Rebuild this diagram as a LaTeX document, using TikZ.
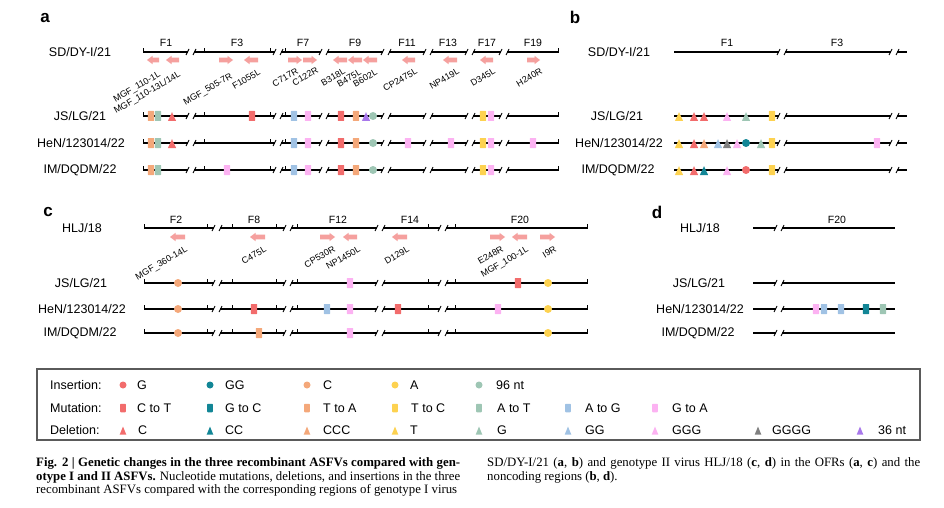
\documentclass[tikz,border=0pt]{standalone}
\usepackage{fontspec}
\setmainfont{Liberation Sans}
\newfontfamily\capfont{Liberation Serif}
\usepackage{graphicx}
\usetikzlibrary{shapes.geometric}
\definecolor{cG}{RGB}{242,108,108}
\definecolor{cGG}{RGB}{18,134,150}
\definecolor{cC}{RGB}{244,168,122}
\definecolor{cA}{RGB}{253,210,80}
\definecolor{cNT}{RGB}{158,198,180}
\definecolor{cAG}{RGB}{160,194,228}
\definecolor{cGA}{RGB}{252,178,242}
\definecolor{cGR}{RGB}{128,128,128}
\definecolor{cPU}{RGB}{168,120,235}
\definecolor{cAR}{RGB}{245,160,158}
\definecolor{cBOX}{RGB}{90,90,90}
\newsavebox\capbox
\newcommand\fitline[2]{\sbox\capbox{#2}\ifdim\wd\capbox<#1pt\makebox[#1pt][s]{#2}\else\pgfmathsetmacro\capr{#1/\the\wd\capbox}\scalebox{\capr}[1]{\usebox\capbox}\fi}
\newcommand\trackline[4]{% y, xstart, xend, breaks
  \draw[trk] (#2,#1) -- (#3,#1);
  \foreach \b in {#4} {
    \fill[white] (\b-3,#1-2.2) rectangle (\b+3,#1+2.2);
    \draw[brk] (\b-5,#1+3) -- (\b-2,#1-3);
    \draw[brk] (\b+2,#1+3) -- (\b+5,#1-3);
  }}
\newcommand\ticks[2]{\foreach \t in {#2} {\draw[tck] (\t,#1+0.6) -- (\t,#1-4);}}
\newcommand\garrowR[3]{\fill[cAR] (#1,#3-2.4) -- (#2-5.5,#3-2.4) -- (#2-5.5,#3-4.2) -- (#2,#3) -- (#2-5.5,#3+4.2) -- (#2-5.5,#3+2.4) -- (#1,#3+2.4) -- cycle;}
\newcommand\garrowL[3]{\fill[cAR] (#2,#3-2.4) -- (#1+5.5,#3-2.4) -- (#1+5.5,#3-4.2) -- (#1,#3) -- (#1+5.5,#3+4.2) -- (#1+5.5,#3+2.4) -- (#2,#3+2.4) -- cycle;}
\tikzset{
  trk/.style={line width=1.2pt},
  brk/.style={line width=0.9pt},
  tck/.style={line width=1pt},
  mut/.style={rectangle, minimum width=6.4pt, minimum height=10pt, inner sep=0pt, draw=none, rounded corners=0.6pt, fill=#1},
  ins/.style={circle, minimum size=8pt, inner sep=0pt, draw=none, fill=#1},
  del/.style={rectangle, minimum width=8.2pt, minimum height=8.8pt, inner sep=0pt, draw=none, yshift=-0.6pt,
    path picture={\fill[#1] (path picture bounding box.north) -- (path picture bounding box.south west) -- (path picture bounding box.south east) -- cycle;}},
  lmut/.style={mut=#1, minimum width=5.6pt, minimum height=8.5pt},
  lins/.style={ins=#1, minimum size=7pt},
  ldel/.style={del=#1, minimum width=6.6pt, minimum height=8pt, yshift=0pt},
  rowlab/.style={font=\fontsize{12.5}{14}\selectfont, inner sep=0pt},
  frag/.style={font=\fontsize{10.5}{12}\selectfont, inner sep=0pt},
  gene/.style={font=\fontsize{9}{10}\selectfont, rotate=30, anchor=north east, inner sep=0.3pt},
  plet/.style={font=\fontsize{17}{18}\selectfont\bfseries, inner sep=0pt},
  leg/.style={font=\fontsize{12.5}{14}\selectfont, anchor=west, inner sep=0pt},
  captxt/.style={font=\capfont\fontsize{12.8}{14}\selectfont, anchor=base west, inner sep=0pt},
}
\begin{document}
\begin{tikzpicture}[x=1pt,y=-1pt]
\useasboundingbox (0,0) rectangle (944,508);
\fill[white] (0,0) rectangle (944,508);

% ---------------- panel letters
\node[plet] (la) at (45,18) {a};
\node[plet] (lb) at (575,17) {b};
\node[plet] (lc) at (48,212) {c};
\node[plet] (ld) at (657,212) {d};

% ---------------- panel a
\node[rowlab] (a0) at (80,52) {SD/DY-I/21};
\node[rowlab] (a1) at (80,116) {JS/LG/21};
\node[rowlab] (a2) at (81,143) {HeN/123014/22};
\node[rowlab] (a3) at (80,170) {IM/DQDM/22};
\foreach \y in {52,116,143,170} {
  \trackline{\y}{143}{558}{191,278,324,386,428,470,504}
  \ticks{\y}{143,204,270,285,558}
}
\foreach \t/\x in {F1/166,F3/237,F7/303,F9/355,F11/407,F13/448,F17/487,F19/533}
  \node[frag] (af-\t) at (\x,43) {\t};
\garrowL{147}{159}{60} \garrowL{166}{179}{60} \garrowR{219}{233}{60} \garrowL{244}{258}{60}
\garrowR{288}{302}{60} \garrowR{303}{317}{60} \garrowL{333}{347}{60} \garrowL{348}{362}{60}
\garrowL{363}{377}{60} \garrowL{402}{415}{60} \garrowL{443}{457}{60} \garrowL{480}{493}{60}
\garrowR{527}{540}{60}
\node[gene] (g1) at (158,70) {MGF\_110-1L};
\node[gene] (g2) at (178,70) {MGF\_110-13L/14L};
\node[gene] (g3) at (230,72) {MGF\_505-7R};
\node[gene] (g4) at (258,68) {F1055L};
\node[gene] (g5) at (296,67) {C717R};
\node[gene] (g6) at (316,66) {C122R};
\node[gene] (g7) at (343,67) {B318L};
\node[gene] (g8) at (359,68) {B475L};
\node[gene] (g9) at (375,68) {B602L};
\node[gene] (g10) at (415,67) {CP2475L};
\node[gene] (g11) at (457,67) {NP419L};
\node[gene] (g12) at (493,67) {D345L};
\node[gene] (g13) at (540,67) {H240R};
\foreach \x/\s/\c [count=\i] in {151/mut/cC,158/mut/cNT,172/del/cG,252/mut/cG,294/mut/cAG,308/mut/cGA,341/mut/cG,356/mut/cC,366/del/cPU,373/ins/cNT,483/mut/cA,491/mut/cGA}
  \node[\s=\c] (aJ-\i) at (\x,116) {};
\foreach \x/\s/\c [count=\i] in {151/mut/cC,158/mut/cNT,172/del/cG,294/mut/cAG,308/mut/cGA,341/mut/cG,356/mut/cC,373/ins/cNT,408/mut/cGA,451/mut/cGA,483/mut/cA,491/mut/cGA,533/mut/cGA}
  \node[\s=\c] (aH-\i) at (\x,143) {};
\foreach \x/\s/\c [count=\i] in {151/mut/cC,158/mut/cNT,227/mut/cGA,294/mut/cAG,308/mut/cGA,341/mut/cG,356/mut/cC,373/ins/cNT,483/mut/cA,491/mut/cGA}
  \node[\s=\c] (aI-\i) at (\x,170) {};

% ---------------- panel b
\node[rowlab] (b0) at (619,52) {SD/DY-I/21};
\node[rowlab] (b1) at (617,116) {JS/LG/21};
\node[rowlab] (b2) at (619,143) {HeN/123014/22};
\node[rowlab] (b3) at (618,170) {IM/DQDM/22};
\foreach \y in {52,116,143,170} {\trackline{\y}{674}{907}{782,894}}
\node[frag] (bf1) at (727,43) {F1};
\node[frag] (bf3) at (837,43) {F3};
\foreach \x/\s/\c [count=\i] in {679/del/cA,694/del/cG,704/del/cG,727/del/cGA,746/del/cNT,772/mut/cA}
  \node[\s=\c] (bJ-\i) at (\x,116) {};
\foreach \x/\s/\c [count=\i] in {679/del/cA,694/del/cG,704/del/cC,718/del/cAG,727/del/cGR,737/del/cGA,746/ins/cGG,761/del/cNT,772/mut/cA,877/mut/cGA}
  \node[\s=\c] (bH-\i) at (\x,143) {};
\foreach \x/\s/\c [count=\i] in {679/del/cA,694/del/cG,704/del/cGG,727/del/cGA,746/ins/cG,772/mut/cA}
  \node[\s=\c] (bI-\i) at (\x,170) {};

% ---------------- panel c
\node[rowlab] (c0) at (82,228) {HLJ/18};
\node[rowlab] (c1) at (81,283) {JS/LG/21};
\node[rowlab] (c2) at (82,309) {HeN/123014/22};
\node[rowlab] (c3) at (80,333) {IM/DQDM/22};
\foreach \y in {228,283,309,333} {
  \trackline{\y}{144}{587}{217,288,380,443}
  \ticks{\y}{144,207,232,276,297,428,455,587}
}
\foreach \t/\x in {F2/176,F8/254,F12/338,F14/410,F20/520}
  \node[frag] (cf-\t) at (\x,220) {\t};
\garrowL{170}{185}{237} \garrowL{250}{265}{237} \garrowR{320}{335}{237} \garrowL{343}{357}{237}
\garrowL{392}{407}{237} \garrowR{490}{505}{237} \garrowL{512}{527}{237} \garrowR{540}{555}{237}
\node[gene] (h1) at (185,245) {MGF\_360-14L};
\node[gene] (h2) at (264,245) {C475L};
\node[gene] (h3) at (333,245) {CP530R};
\node[gene] (h4) at (358,245) {NP1450L};
\node[gene] (h5) at (407,245) {D129L};
\node[gene] (h6) at (501,245) {E248R};
\node[gene] (h7) at (526,245) {MGF\_100-1L};
\node[gene] (h8) at (554,245) {I9R};
\foreach \x/\s/\c [count=\i] in {178/ins/cC,350/mut/cGA,518/mut/cG,548/ins/cA}
  \node[\s=\c] (cJ-\i) at (\x,283) {};
\foreach \x/\s/\c [count=\i] in {178/ins/cC,254/mut/cG,327/mut/cAG,350/mut/cGA,398/mut/cG,498/mut/cGA,548/ins/cA}
  \node[\s=\c] (cH-\i) at (\x,309) {};
\foreach \x/\s/\c [count=\i] in {178/ins/cC,259/mut/cC,350/mut/cGA,548/ins/cA}
  \node[\s=\c] (cI-\i) at (\x,333) {};

% ---------------- panel d
\node[rowlab] (d0) at (700,228) {HLJ/18};
\node[rowlab] (d1) at (699,283) {JS/LG/21};
\node[rowlab] (d2) at (700,309) {HeN/123014/22};
\node[rowlab] (d3) at (698,333) {IM/DQDM/22};
\foreach \y in {228,283,309,333} {\trackline{\y}{753}{895}{779}}
\node[frag] (df20) at (837,220) {F20};
\foreach \x/\s/\c [count=\i] in {816/mut/cGA,824/mut/cAG,841/mut/cAG,866/mut/cGG,883/mut/cNT}
  \node[\s=\c] (dH-\i) at (\x,309) {};

% ---------------- legend
\draw[cBOX, line width=1.3pt] (37,369) rectangle (920,440);
\node[leg] (lg1) at (50,385) {Insertion:};
\node[leg] (lg2) at (50,408) {Mutation:};
\node[leg] (lg3) at (50,430) {Deletion:};
\foreach \sx/\tx/\c/\t [count=\i] in {123/137/cG/G,210/225/cGG/GG,307/323/cC/C,395/410/cA/A,479/496/cNT/96 nt}
  {\node[lins=\c] (li-\i) at (\sx,385) {}; \node[leg] (lit-\i) at (\tx,385) {\t};}
\foreach \sx/\tx/\c/\t [count=\i] in {123/137/cG/C to T,210/225/cGG/G to C,307/323/cC/T to A,395/411/cA/T to C,479/497/cNT/A to T,568/585/cAG/A to G,655/672/cGA/G to A}
  {\node[lmut=\c] (lm-\i) at (\sx,408) {}; \node[leg] (lmt-\i) at (\tx,408) {\t};}
\foreach \sx/\tx/\c/\t [count=\i] in {123/138/cG/C,210/225/cGG/CC,307/323/cC/CCC,395/410/cA/T,479/497/cNT/G,568/585/cAG/GG,655/672/cGA/GGG,758/772/cGR/GGGG,860/878/cPU/36 nt}
  {\node[ldel=\c] (ld-\i) at (\sx,430) {}; \node[leg] (ldt-\i) at (\tx,430) {\t};}

% ---------------- caption
\node[captxt] (cp1) at (36,466) {\fitline{424}{\textbf{Fig. 2 | Genetic changes in the three recombinant ASFVs compared with gen-}}};
\node[captxt] (cp2) at (36,480) {\fitline{424}{\textbf{otype I and II ASFVs.} Nucleotide mutations, deletions, and insertions in the three}};
\node[captxt] (cp3) at (36,493) {\fitline{421}{recombinant ASFVs compared with the corresponding regions of genotype I virus}};
\node[captxt] (cp4) at (487,466) {\fitline{433}{SD/DY-I/21 (\textbf{a}, \textbf{b}) and genotype II virus HLJ/18 (\textbf{c}, \textbf{d}) in the OFRs (\textbf{a}, \textbf{c}) and the}};
\node[captxt] (cp5) at (487,480) {noncoding regions (\textbf{b}, \textbf{d}).};
\end{tikzpicture}
\end{document}
